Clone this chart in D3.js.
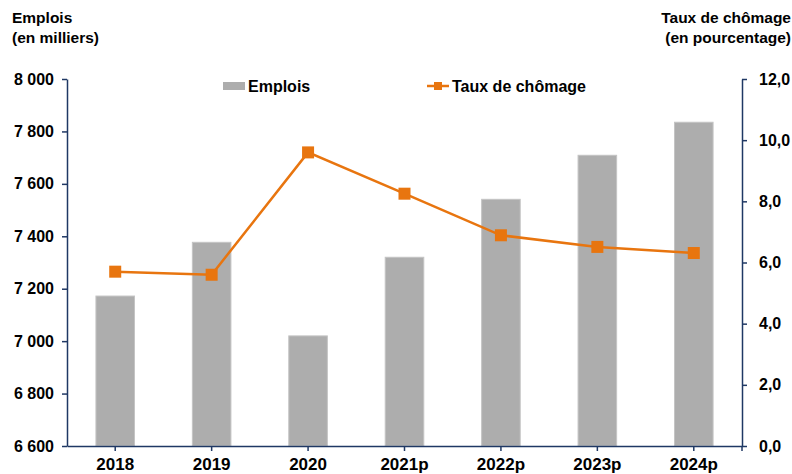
<!DOCTYPE html>
<html lang="fr">
<head>
<meta charset="UTF-8">
<title>Emplois et taux de chômage</title>
<script src="https://d3js.org/d3.v7.min.js"></script>
<style>
  body { margin: 0; background: #fff; }
  svg text { font-family: "Liberation Sans", Arial, sans-serif; font-weight: bold; fill: #000; }
</style>
</head>
<body>
<svg id="chart" width="792" height="474"></svg>
<script>
const years = ["2018", "2019", "2020", "2021p", "2022p", "2023p", "2024p"];
const emplois = [7172, 7377, 7020, 7320, 7541, 7709, 7835];
const chomage = [5.70, 5.60, 9.60, 8.25, 6.89, 6.51, 6.31];
const leftTicks = [6600, 6800, 7000, 7200, 7400, 7600, 7800, 8000];
const rightTicks = [0, 2, 4, 6, 8, 10, 12];

const axisColor = "#1f3864";
const barColor = "#adadad";
const lineColor = "#e8750f";

const svg = d3.select("#chart");
const plotLeft = 67, plotRight = 742, plotTop = 79, plotBottom = 446;

const x = d3.scaleBand().domain(years).range([plotLeft, plotRight])
  .paddingInner(0.6).paddingOuter(0.3);
const yL = d3.scaleLinear().domain([6600, 8000]).range([plotBottom, plotTop]);
const yR = d3.scaleLinear().domain([0, 12]).range([plotBottom, plotTop]);

// bars
svg.append("g").selectAll("rect")
  .data(years)
  .enter().append("rect")
  .attr("x", d => x(d))
  .attr("y", (d, i) => yL(emplois[i]))
  .attr("width", x.bandwidth())
  .attr("height", (d, i) => plotBottom - yL(emplois[i]))
  .attr("fill", barColor)
  .attr("stroke", "#c4c4c4")
  .attr("stroke-width", 1);

const fmtL = d => d3.format(",")(d).replace(",", " ");
const fmtR = d => d.toFixed(1).replace(".", ",");

// left axis
const gL = svg.append("g").attr("transform", `translate(${plotLeft},0)`)
  .call(d3.axisLeft(yL).tickValues(leftTicks).tickFormat(fmtL).tickSize(5).tickSizeOuter(0).tickPadding(8));

// right axis
const gR = svg.append("g").attr("transform", `translate(${plotRight},0)`)
  .call(d3.axisRight(yR).tickValues(rightTicks).tickFormat(fmtR).tickSize(5).tickSizeOuter(0).tickPadding(12));

// bottom axis
const gB = svg.append("g").attr("transform", `translate(0,${plotBottom})`)
  .call(d3.axisBottom(x).tickSize(5).tickSizeOuter(0).tickPadding(7));
gB.append("line").attr("x1", plotRight).attr("x2", plotRight).attr("y1", 0).attr("y2", 5);

[gL, gR, gB].forEach(g => {
  g.selectAll("path, line").attr("stroke", axisColor).attr("stroke-width", 1.5);
  g.selectAll("text").attr("fill", "#000").style("font-size", "16px")
    .style("font-family", "'Liberation Sans', Arial, sans-serif").style("font-weight", "bold");
});
gB.selectAll("text").style("font-size", "17px");

// line
const line = d3.line()
  .x((d, i) => x(years[i]) + x.bandwidth() / 2)
  .y(d => yR(d));

svg.append("path")
  .datum(chomage)
  .attr("d", line)
  .attr("fill", "none")
  .attr("stroke", lineColor)
  .attr("stroke-width", 2.5);

const m = 12;
svg.append("g").selectAll("rect")
  .data(chomage)
  .enter().append("rect")
  .attr("x", (d, i) => x(years[i]) + x.bandwidth() / 2 - m / 2)
  .attr("y", d => yR(d) - m / 2)
  .attr("width", m)
  .attr("height", m)
  .attr("fill", lineColor);

// axis titles
svg.append("text").attr("x", 12).attr("y", 23).style("font-size", "15.5px").text("Emplois");
svg.append("text").attr("x", 12).attr("y", 43).style("font-size", "15.5px").text("(en milliers)");
svg.append("text").attr("x", 791).attr("y", 23).attr("text-anchor", "end").style("font-size", "15.5px").text("Taux de chômage");
svg.append("text").attr("x", 791).attr("y", 43).attr("text-anchor", "end").style("font-size", "15.5px").text("(en pourcentage)");

// legend
const lg = svg.append("g");
lg.append("rect").attr("x", 223).attr("y", 82).attr("width", 22).attr("height", 8).attr("fill", barColor);
lg.append("text").attr("x", 248).attr("y", 92).style("font-size", "16px").text("Emplois");
lg.append("line").attr("x1", 427).attr("x2", 449).attr("y1", 86).attr("y2", 86)
  .attr("stroke", lineColor).attr("stroke-width", 2.5);
lg.append("rect").attr("x", 434).attr("y", 82).attr("width", 8).attr("height", 8).attr("fill", lineColor);
lg.append("text").attr("x", 452).attr("y", 92).style("font-size", "16px").text("Taux de chômage");
</script>
</body>
</html>
